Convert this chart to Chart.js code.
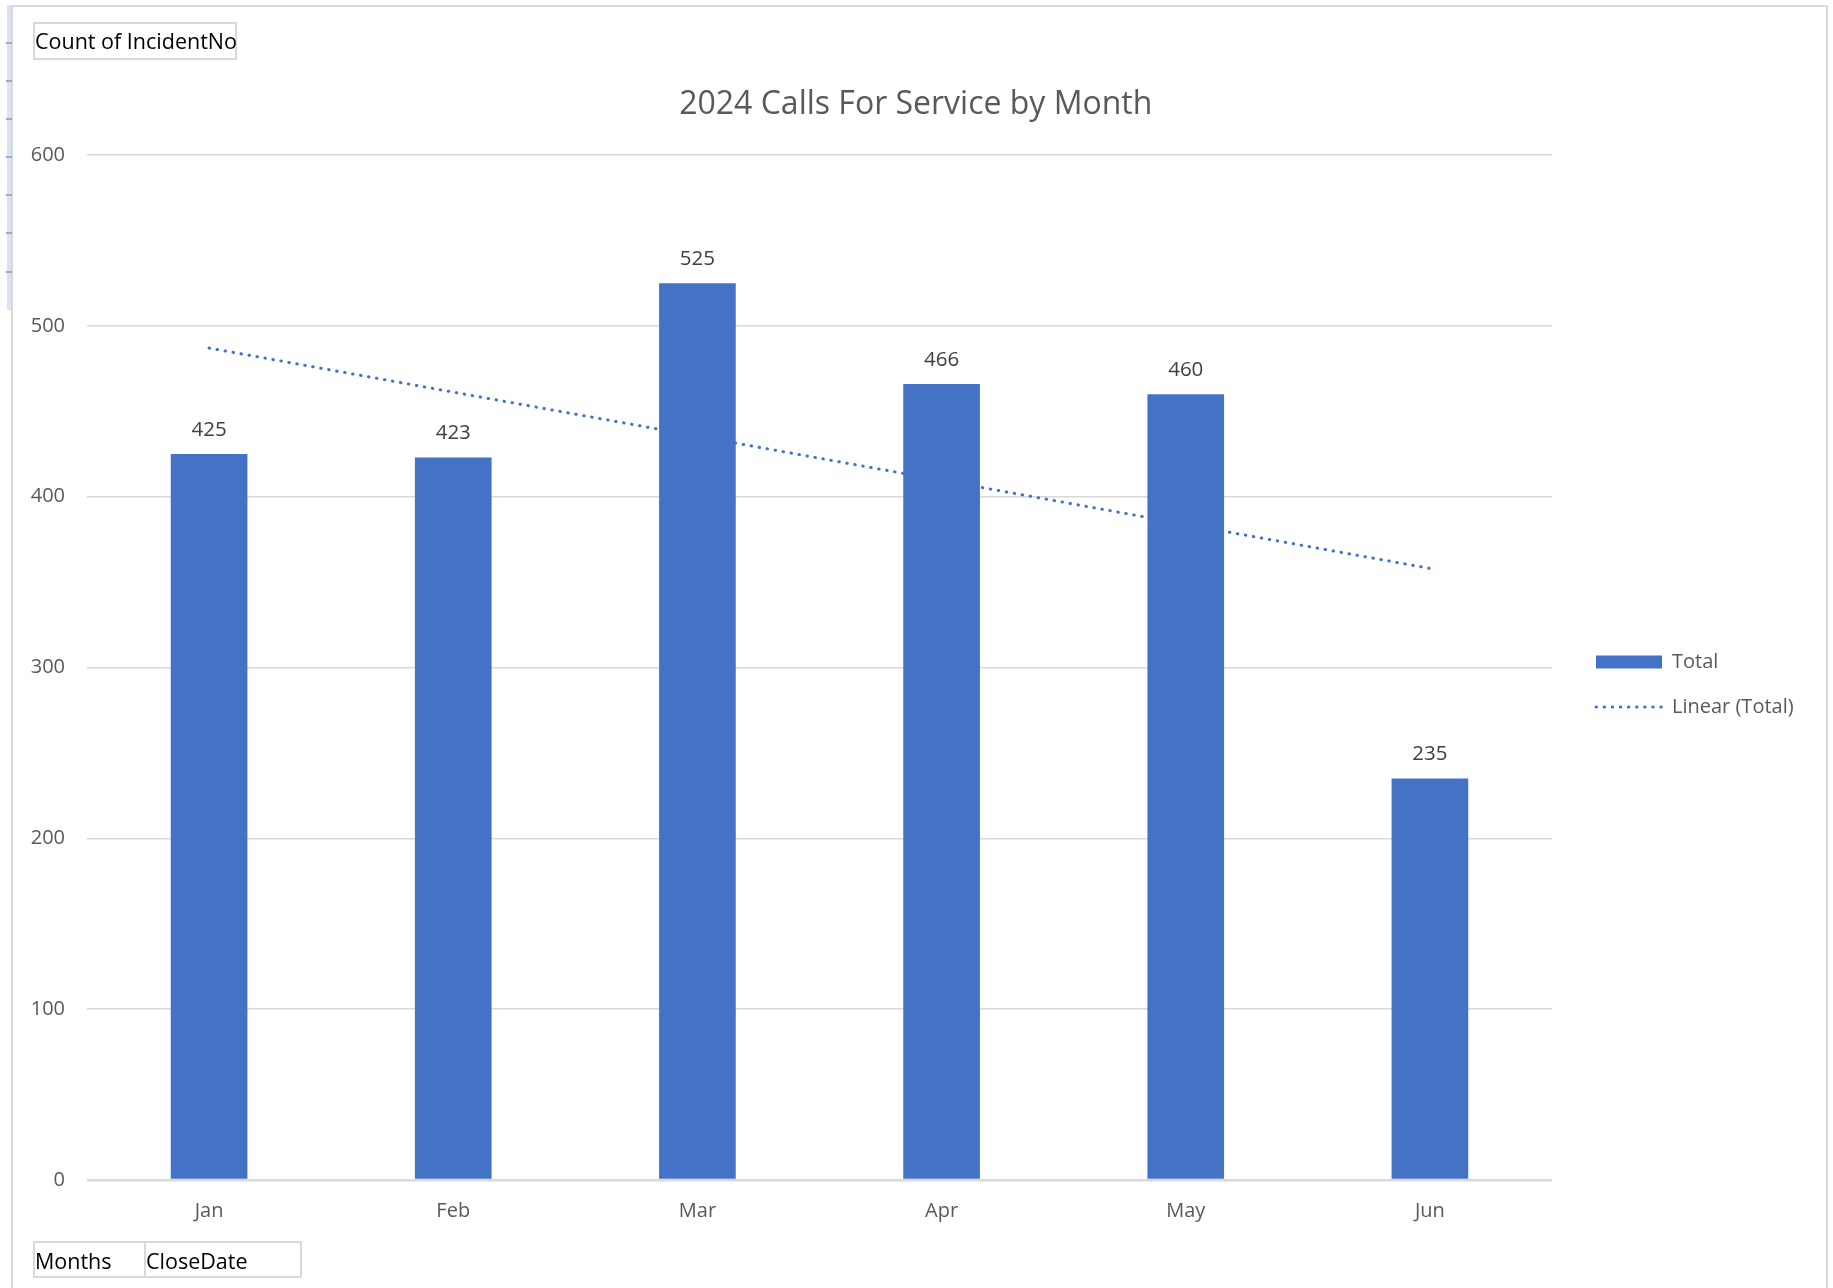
<!DOCTYPE html>
<html>
<head>
<meta charset="utf-8">
<script src="https://cdn.jsdelivr.net/npm/chart.js@4.4.1/dist/chart.umd.min.js"></script>
<style>
    body { margin: 0; background: #fff; font-family: 'Open Sans', sans-serif; }
    #wrap { position: relative; width: 1833px; height: 1288px; overflow: hidden; }
    #chart { position: absolute; left: 0; top: 0; }
    .frame { position: absolute; left: 11px; top: 5px; width: 1813px; height: 1300px; border: 2px solid #d9d9d9; pointer-events: none; }
    .strip { position: absolute; left: 7px; top: 5px; width: 5px; height: 305px; background: #dae3f3; }
    .strip-mark { position: absolute; left: 6px; width: 6px; height: 2px; background: #8faadc; }
    .field { position: absolute; border: 2px solid #d9d9d9; color: #000; font-size: 21.5px; line-height: 33px; padding-left: 0; box-sizing: border-box; white-space: nowrap; }
</style>
</head>
<body>
<div id="wrap">
    <div class="strip"></div>
    <div class="frame"></div>
    <canvas id="chart" width="1833" height="1288"></canvas>
    <div class="field" style="left:33px; top:22px; width:204px; height:38px;">Count of IncidentNo</div>
    <div class="field" style="left:33px; top:1241px; width:113px; height:37px; line-height:35px;">Months</div>
    <div class="field" style="left:144px; top:1241px; width:158px; height:37px; line-height:35px;">CloseDate</div>
</div>
<script>
    const months = ['Jan', 'Feb', 'Mar', 'Apr', 'May', 'Jun'];
    const totals = [425, 423, 525, 466, 460, 235];
    const trendMonths = ['Jan', 'Jun'];
    const trendValues = [487, 358];
    const stripMarks = [42, 80, 118, 156, 194, 232, 271];

    const barColor = '#4472c4';
    const textGray = '#595959';

    stripMarks.forEach(function(y) {
        var mark = document.createElement('div');
        mark.className = 'strip-mark';
        mark.style.top = y + 'px';
        document.getElementById('wrap').appendChild(mark);
    });

    Chart.defaults.font.family = "'Open Sans', sans-serif";
    Chart.defaults.color = textGray;

    // legend sits 44px right of the plot; work out the right padding from the text width
    const legendPad = 25, legendSwatch = 66, legendFont = 20;
    const measure = document.createElement('canvas').getContext('2d');
    measure.font = legendFont + "px 'Open Sans', sans-serif";
    const longest = Math.max(measure.measureText('Linear (Total)').width, measure.measureText('Total').width);
    const legendWidth = legendPad + legendSwatch + legendFont / 2 + longest + 10;
    const plotLeft = 87, plotRight = 1552, gapWidth = 19, leftPadding = 28;
    const rightPadding = Math.max(0, 1833 - plotRight - gapWidth - legendWidth);

    // value labels above the bars
    const barLabels = {
        id: 'barLabels',
        afterDatasetsDraw(chart) {
            const ctx = chart.ctx;
            const meta = chart.getDatasetMeta(0);
            ctx.save();
            ctx.font = "20.5px 'Open Sans', sans-serif";
            ctx.fillStyle = '#404040';
            ctx.textAlign = 'center';
            ctx.textBaseline = 'middle';
            meta.data.forEach(function(bar, i) {
                ctx.fillText(String(totals[i]), bar.x, bar.y - 24);
            });
            ctx.restore();
        }
    };

    const trendData = trendMonths.map(function(m, i) {
        return { x: m, y: trendValues[i] };
    });

    new Chart(document.getElementById('chart'), {
        type: 'bar',
        data: {
            labels: months,
            datasets: [{
                label: 'Total',
                data: totals,
                backgroundColor: barColor,
                borderWidth: 0,
                categoryPercentage: 1,
                barPercentage: 0.314,
                pointStyle: 'rect',
                order: 2
            }, {
                type: 'line',
                label: 'Linear (Total)',
                data: trendData,
                borderColor: barColor,
                backgroundColor: barColor,
                borderWidth: 3,
                borderDash: [0.5, 7.6],
                borderCapStyle: 'round',
                pointRadius: 0,
                pointHoverRadius: 0,
                pointStyle: 'line',
                fill: false,
                order: 1
            }]
        },
        options: {
            responsive: false,
            animation: false,
            layout: { padding: { left: leftPadding, right: rightPadding, top: 0, bottom: 0 } },
            scales: {
                x: {
                    grid: { display: false },
                    border: { display: false },
                    ticks: { color: textGray, font: { size: 20 }, padding: 11 },
                    afterFit: function(scale) { scale.height = 108; }
                },
                y: {
                    min: 0,
                    max: 600,
                    ticks: { stepSize: 100, color: textGray, font: { size: 20 }, padding: 22 },
                    grid: {
                        color: '#d9d9d9',
                        lineWidth: function(c) { return c.tick && c.tick.value === 0 ? 2.5 : 1.5; },
                        drawTicks: false
                    },
                    border: { display: false },
                    afterFit: function(scale) { scale.width = plotLeft - leftPadding; }
                },
                gap: {
                    position: 'right',
                    grid: { display: false },
                    border: { display: false },
                    ticks: { display: false },
                    afterFit: function(scale) { scale.width = gapWidth; }
                }
            },
            plugins: {
                title: {
                    display: true,
                    text: '2024 Calls For Service by Month',
                    color: textGray,
                    font: { size: 32, weight: 'normal', lineHeight: 1.2 },
                    padding: { top: 86, bottom: 30.6 }
                },
                legend: {
                    position: 'right',
                    fullSize: false,
                    title: { display: true, text: '', padding: 0, font: { size: 34, lineHeight: 1 } },
                    labels: {
                        usePointStyle: true,
                        pointStyleWidth: legendSwatch,
                        boxHeight: 13,
                        padding: legendPad,
                        color: textGray,
                        font: { size: legendFont },
                        sort: function(a, b) { return a.datasetIndex - b.datasetIndex; },
                        generateLabels: function(chart) {
                            const items = Chart.defaults.plugins.legend.labels.generateLabels(chart);
                            items.forEach(function(item) {
                                const ds = chart.data.datasets[item.datasetIndex];
                                if (ds.borderDash) {
                                    item.lineDash = ds.borderDash;
                                    item.lineCap = ds.borderCapStyle;
                                    item.lineWidth = ds.borderWidth;
                                    item.strokeStyle = ds.borderColor;
                                }
                            });
                            return items;
                        }
                    }
                },
                tooltip: { enabled: false }
            }
        },
        plugins: [barLabels]
    });
</script>
</body>
</html>
